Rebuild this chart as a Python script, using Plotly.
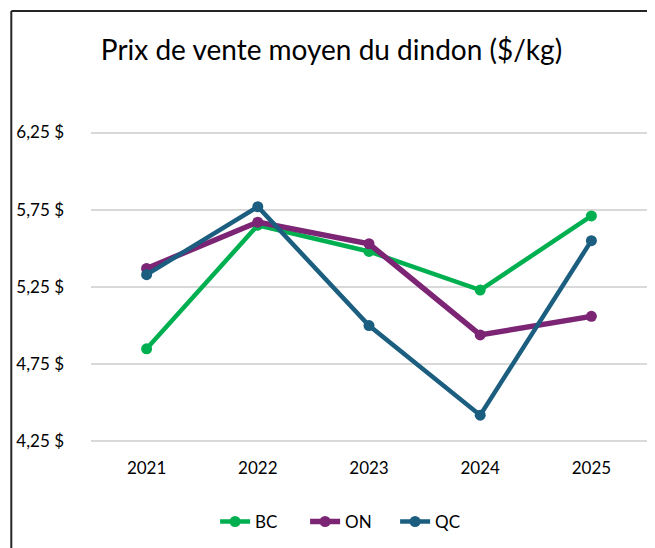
import plotly.graph_objects as go

years = ["2021", "2022", "2023", "2024", "2025"]
bc = [4.85, 5.65, 5.48, 5.23, 5.71]
on = [5.37, 5.67, 5.53, 4.94, 5.06]
qc = [5.33, 5.77, 5.00, 4.42, 5.55]
tick_vals = [4.25, 4.75, 5.25, 5.75, 6.25]
tick_text = ["4,25 $", "4,75 $", "5,25 $", "5,75 $", "6,25 $"]

FONT = "Lato"
series = [
    ("BC", bc, "#00B050", 4.5),
    ("ON", on, "#7B2574", 5.5),
    ("QC", qc, "#1B5E80", 4.5),
]

fig = go.Figure()
for name, vals, color, w in series:
    fig.add_trace(go.Scatter(
        x=years, y=vals, name=name, mode="lines+markers",
        line=dict(color=color, width=w),
        marker=dict(color=color, size=11),
    ))

W, H = 647, 540
L, R, T, B = 81, 8, 123, 105
pw = W - L - R
ph = H - T - B

fig.update_layout(
    width=W, height=H,
    margin=dict(l=L, r=R, t=T, b=B),
    paper_bgcolor="white", plot_bgcolor="white",
    font=dict(family=FONT, size=17, color="#000000"),
    title=dict(text="Prix de vente moyen du dindon ($/kg)",
               x=0.5, xref="container", xanchor="center",
               y=1 - 42 / H, yref="container", yanchor="middle",
               font=dict(family=FONT, size=28, color="#000000")),
    xaxis=dict(type="category", range=[-0.5, 4.5], showgrid=False,
               zeroline=False, showline=False, ticks="",
               ticklabelstandoff=13, tickfont=dict(size=17)),
    yaxis=dict(range=[4.24, 6.26], tickvals=tick_vals, ticktext=tick_text,
               showgrid=True, gridcolor="#D9D9D9", gridwidth=1.5,
               zeroline=False, showline=False, ticks="",
               ticklabelstandoff=26, tickfont=dict(size=17)),
    showlegend=True,
    legend=dict(orientation="h", x=0.466, xref="paper", xanchor="center",
                y=-0.253, yanchor="middle", font=dict(size=17),
                entrywidth=45, entrywidthmode="pixels", tracegroupgap=0),
    shapes=[
        dict(type="line", xref="paper", yref="paper",
             x0=(1 - L) / pw, x1=1.2, y0=(H - B - 3) / ph, y1=(H - B - 3) / ph,
             line=dict(color="#262626", width=2)),
        dict(type="line", xref="paper", yref="paper",
             x0=(1 - L) / pw, x1=(1 - L) / pw, y0=(H - B - 3) / ph, y1=-0.6,
             line=dict(color="#262626", width=2)),
    ],
)

fig.write_html("out.html")
